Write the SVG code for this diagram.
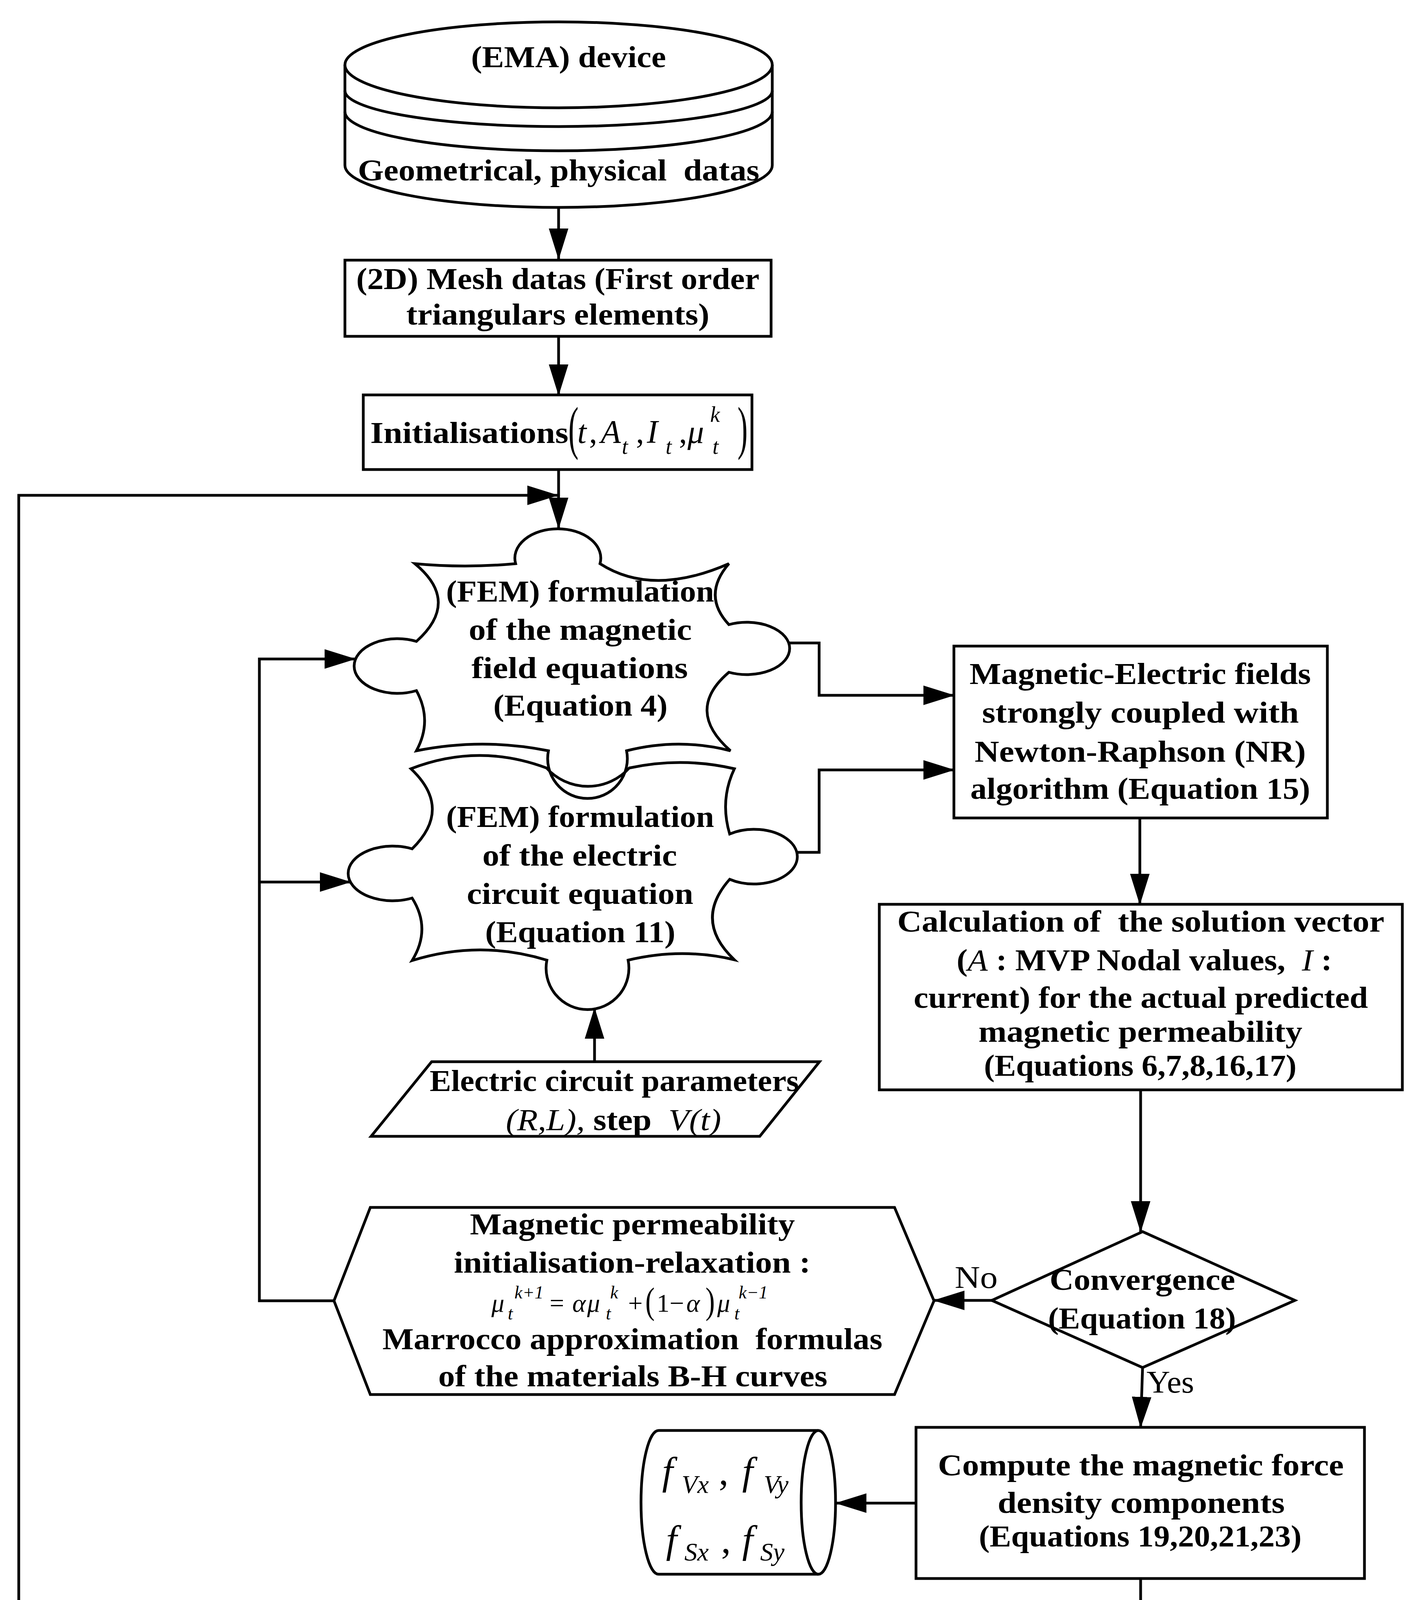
<svg xmlns="http://www.w3.org/2000/svg" width="3648" height="5640" viewBox="0 0 3648 5640">
<style>
.w{fill:#fff;stroke:#000;stroke-width:7;stroke-linejoin:miter}
.s{fill:none;stroke:#000;stroke-width:7}
.c{fill:none;stroke:#000;stroke-width:7;marker-end:url(#ah)}
text{font-family:"Liberation Serif","Times New Roman",serif;fill:#000}
.b{font-weight:bold;font-size:78px}
.l{font-size:80px}
.m{font-style:italic}
.u{font-style:normal}
</style>
<defs>
<marker id="ah" markerUnits="userSpaceOnUse" markerWidth="80" markerHeight="50" refX="78" refY="25" orient="auto" viewBox="0 0 80 50"><path d="M0,0 L80,25 L0,50 z" fill="#000"/></marker>
</defs>
<rect width="3648" height="5640" fill="#fff"/>
<g id="connectors">
<path class="c" d="M1430,531 V663"/>
<path class="c" d="M1430,861 V1011"/>
<path class="c" d="M1430,1202 V1352"/>
<path class="c" d="M951,4858 H48 V1268 H1428"/>
<path class="c" d="M855,3330 H664 V1687 H909"/>
<path class="c" d="M664,2258 H897"/>
<path class="c" d="M2017,1646 H2097 V1780 H2442"/>
<path class="c" d="M2040,2182 H2097 V1971 H2442"/>
<path class="c" d="M2918,2094 V2315"/>
<path class="c" d="M2920,2790 V3153"/>
<path class="c" d="M2539,3329 H2391"/>
<path class="c" d="M2925,3501 L2920,3654"/>
<path class="c" d="M1522,2718 V2581"/>
<path class="c" d="M2345,3848 H2140"/>
<path class="c" d="M2920,4041 V4183"/>
<path class="c" d="M2345,4376 L2143,4386"/>
<path class="c" d="M2920,4569 V4742"/>
<path class="c" d="M2638,4857 L2015,4860"/>
<path class="c" d="M2922,4971 V5132"/>
</g>
<g id="n-ema">
<path class="w" d="M883,166 V423 A547,108 0 0 0 1977,423 V166"/>
<ellipse class="w" cx="1430" cy="166" rx="547" ry="110"/>
<path class="s" d="M883,232 A547,92 0 0 0 1977,232"/>
<path class="s" d="M883,286 A547,100 0 0 0 1977,286"/>
<text class="b" x="1206" y="172" textLength="499" lengthAdjust="spacingAndGlyphs">(EMA) device</text>
<text class="b" x="916" y="462" textLength="1028" lengthAdjust="spacingAndGlyphs" xml:space="preserve">Geometrical, physical  datas</text>
</g>
<g id="n-mesh">
<rect class="w" x="883" y="666" width="1091" height="195"/>
<text class="b" x="912" y="740" textLength="1032" lengthAdjust="spacingAndGlyphs">(2D) Mesh datas (First order</text>
<text class="b" x="1040" y="831" textLength="776" lengthAdjust="spacingAndGlyphs">triangulars elements)</text>
</g>
<g id="n-init">
<rect class="w" x="930" y="1011" width="995" height="191"/>
<text class="b" x="948" y="1134" textLength="507" lengthAdjust="spacingAndGlyphs">Initialisations</text>
<text x="1455" y="1146" style="font-size:150px" textLength="26" lengthAdjust="spacingAndGlyphs">(</text>
<text class="m" y="1134" style="font-size:84px"><tspan x="1478">t</tspan><tspan x="1508" class="u">,</tspan><tspan x="1538">A</tspan><tspan x="1592" y="1162" style="font-size:56px">t</tspan><tspan x="1628" y="1134" class="u">,</tspan><tspan x="1656">I</tspan><tspan x="1704" y="1162" style="font-size:56px">t</tspan><tspan x="1738" y="1134" class="u">,</tspan><tspan x="1760">μ</tspan><tspan x="1818" y="1080" style="font-size:56px">k</tspan><tspan x="1824" y="1162" style="font-size:56px">t</tspan></text>
<text x="1888" y="1146" style="font-size:150px" textLength="26" lengthAdjust="spacingAndGlyphs">)</text>
</g>
<g id="n-fem-magnetic">
<path class="s" d="M1062,1443 Q1190,1455 1320,1443 A110,75 0 1 1 1536,1443 Q1670,1529 1866,1443 Q1796,1524 1866,1599 A110,67 0 1 1 1866,1721 Q1752,1818 1870,1922 Q1738,1888 1604,1922 A102,102 0 1 1 1404,1922 Q1235,1888 1066,1922 Q1108,1845 1066,1768 A111,70 0 1 1 1066,1642 Q1180,1540 1062,1443 Z"/>
<text class="b" x="1142" y="1540" textLength="686" lengthAdjust="spacingAndGlyphs">(FEM) formulation</text>
<text class="b" x="1200" y="1638" textLength="571" lengthAdjust="spacingAndGlyphs">of the magnetic</text>
<text class="b" x="1207" y="1736" textLength="554" lengthAdjust="spacingAndGlyphs">field equations</text>
<text class="b" x="1263" y="1832" textLength="446" lengthAdjust="spacingAndGlyphs">(Equation 4)</text>
</g>
<g id="n-fem-electric">
<path class="s" d="M1052,1968 Q1225,1901 1399,1966 A143,143 0 0 0 1611,1966 Q1745,1937 1880,1968 Q1842,2048 1868,2135 A111,70 0 1 1 1868,2251 Q1774,2357 1880,2457 Q1745,2425 1608,2458 A106,106 0 1 1 1400,2458 Q1228,2405 1055,2459 Q1105,2378 1055,2299 A114,70 0 1 1 1055,2173 Q1160,2070 1052,1968 Z"/>
<text class="b" x="1142" y="2117" textLength="686" lengthAdjust="spacingAndGlyphs">(FEM) formulation</text>
<text class="b" x="1235" y="2216" textLength="498" lengthAdjust="spacingAndGlyphs">of the electric</text>
<text class="b" x="1195" y="2314" textLength="580" lengthAdjust="spacingAndGlyphs">circuit equation</text>
<text class="b" x="1242" y="2412" textLength="487" lengthAdjust="spacingAndGlyphs">(Equation 11)</text>
</g>
<g id="n-coupled">
<rect class="w" x="2442" y="1654" width="956" height="440"/>
<text class="b" x="2482" y="1751" textLength="874" lengthAdjust="spacingAndGlyphs">Magnetic-Electric fields</text>
<text class="b" x="2514" y="1850" textLength="811" lengthAdjust="spacingAndGlyphs">strongly coupled with</text>
<text class="b" x="2495" y="1950" textLength="848" lengthAdjust="spacingAndGlyphs">Newton-Raphson (NR)</text>
<text class="b" x="2484" y="2045" textLength="870" lengthAdjust="spacingAndGlyphs">algorithm (Equation 15)</text>
</g>
<g id="n-calc">
<rect class="w" x="2251" y="2315" width="1339" height="475"/>
<text class="b" x="2297" y="2385" textLength="1247" lengthAdjust="spacingAndGlyphs" xml:space="preserve">Calculation of  the solution vector</text>
<text class="b" x="2449" y="2484" textLength="961" lengthAdjust="spacingAndGlyphs" xml:space="preserve">(<tspan font-style="italic" font-weight="normal">A</tspan> : MVP Nodal values,  <tspan font-style="italic" font-weight="normal">I</tspan> :</text>
<text class="b" x="2339" y="2580" textLength="1163" lengthAdjust="spacingAndGlyphs">current) for the actual predicted</text>
<text class="b" x="2505" y="2667" textLength="829" lengthAdjust="spacingAndGlyphs">magnetic permeability</text>
<text class="b" x="2519" y="2754" textLength="800" lengthAdjust="spacingAndGlyphs">(Equations 6,7,8,16,17)</text>
</g>
<g id="n-params">
<polygon class="w" points="1105,2718 2098,2718 1945,2909 950,2909"/>
<text class="b" x="1100" y="2793" textLength="945" lengthAdjust="spacingAndGlyphs">Electric circuit parameters</text>
<text class="b" x="1295" y="2893" textLength="551" lengthAdjust="spacingAndGlyphs" xml:space="preserve"><tspan font-style="italic" font-weight="normal">(R,L),</tspan> step  <tspan font-style="italic" font-weight="normal">V(t)</tspan></text>
</g>
<g id="n-relax">
<polygon class="w" points="855,3330 948,3091 2290,3091 2391,3330 2290,3570 948,3570"/>
<text class="b" x="1203" y="3160" textLength="832" lengthAdjust="spacingAndGlyphs">Magnetic permeability</text>
<text class="b" x="1162" y="3258" textLength="913" lengthAdjust="spacingAndGlyphs">initialisation-relaxation :</text>
<text class="m" y="3358" style="font-size:66px"><tspan x="1258">μ</tspan><tspan x="1317" y="3324" style="font-size:46px">k+1</tspan><tspan x="1300" y="3378" style="font-size:46px">t</tspan><tspan x="1407" y="3358" class="u">=</tspan><tspan x="1465">α</tspan><tspan x="1503">μ</tspan><tspan x="1562" y="3324" style="font-size:46px">k</tspan><tspan x="1551" y="3378" style="font-size:46px">t</tspan><tspan x="1608" y="3358" class="u">+</tspan><tspan x="1681" class="u">1</tspan><tspan x="1714" class="u">−</tspan><tspan x="1757">α</tspan><tspan x="1836">μ</tspan><tspan x="1891" y="3324" style="font-size:46px">k−1</tspan><tspan x="1880" y="3378" style="font-size:46px">t</tspan></text>
<text x="1652" y="3362" style="font-size:96px" textLength="24" lengthAdjust="spacingAndGlyphs">(</text>
<text x="1806" y="3362" style="font-size:96px" textLength="24" lengthAdjust="spacingAndGlyphs">)</text>
<text class="b" x="979" y="3454" textLength="1280" lengthAdjust="spacingAndGlyphs" xml:space="preserve">Marrocco approximation  formulas</text>
<text class="b" x="1122" y="3549" textLength="996" lengthAdjust="spacingAndGlyphs">of the materials B-H curves</text>
</g>
<g id="n-convergence">
<polygon class="w" points="2925,3153 3315,3329 2925,3501 2539,3329"/>
<text class="b" x="2687" y="3302" textLength="475" lengthAdjust="spacingAndGlyphs">Convergence</text>
<text class="b" x="2683" y="3401" textLength="481" lengthAdjust="spacingAndGlyphs">(Equation 18)</text>
</g>
<g id="n-compute">
<rect class="w" x="2345" y="3654" width="1148" height="387"/>
<text class="b" x="2401" y="3777" textLength="1039" lengthAdjust="spacingAndGlyphs">Compute the magnetic force</text>
<text class="b" x="2554" y="3873" textLength="735" lengthAdjust="spacingAndGlyphs">density components</text>
<text class="b" x="2506" y="3959" textLength="826" lengthAdjust="spacingAndGlyphs">(Equations 19,20,21,23)</text>
</g>
<g id="n-forces">
<path class="w" d="M2095,3662 H1686 A45,184 0 0 0 1686,4030 H2095"/>
<ellipse class="w" cx="2095" cy="3846" rx="44" ry="184"/>
<text class="m" y="3800" style="font-size:100px"><tspan x="1695">f</tspan><tspan x="1745" y="3822" style="font-size:66px">Vx</tspan><tspan x="1840" y="3800" class="u">,</tspan><tspan x="1900">f</tspan><tspan x="1955" y="3822" style="font-size:66px">Vy</tspan></text>
<text class="m" y="3975" style="font-size:100px"><tspan x="1705">f</tspan><tspan x="1752" y="3995" style="font-size:66px">Sx</tspan><tspan x="1846" y="3975" class="u">,</tspan><tspan x="1900">f</tspan><tspan x="1946" y="3995" style="font-size:66px">Sy</tspan></text>
</g>
<g id="n-solve">
<rect class="w" x="2345" y="4183" width="1148" height="386"/>
<text class="b" x="2408" y="4256" textLength="1021" lengthAdjust="spacingAndGlyphs">Solve the (FEM) mechanical</text>
<text class="b" x="2569" y="4351" textLength="704" lengthAdjust="spacingAndGlyphs">deformation model</text>
<text class="b" x="2719" y="4451" textLength="400" lengthAdjust="spacingAndGlyphs">(Equations</text>
<text class="b" x="2562" y="4546" textLength="707" lengthAdjust="spacingAndGlyphs">24,25,32,33,34,35,36)</text>
</g>
<g id="n-structural">
<path class="w" d="M2101,4223 H1450 A42,163.5 0 0 0 1450,4550 H2101"/>
<ellipse class="w" cx="2101" cy="4386.5" rx="40" ry="163.5"/>
<text class="b" x="1554" y="4307" textLength="363" lengthAdjust="spacingAndGlyphs">Structural</text>
<text class="b" x="1510" y="4406" textLength="452" lengthAdjust="spacingAndGlyphs">deformation</text>
<text class="m" y="4487" style="font-size:78px"><tspan x="1540">ε</tspan><tspan x="1588" y="4508" style="font-size:54px">xx</tspan><tspan x="1660" y="4487" class="u">,</tspan><tspan x="1702">ε</tspan><tspan x="1750" y="4508" style="font-size:54px">yy</tspan><tspan x="1826" y="4487" class="u">,</tspan><tspan x="1852">ε</tspan><tspan x="1902" y="4508" style="font-size:54px">xy</tspan></text>
</g>
<g id="n-time">
<polygon class="w" points="2922,4742 3207,4857 2922,4971 2638,4857"/>
<text class="m" y="4877" style="font-size:88px"><tspan x="2803">t</tspan><tspan x="2843" class="u">≤</tspan><tspan x="2896">t</tspan></text>
<text class="m" x="2942" y="4896" style="font-size:58px" textLength="125" lengthAdjust="spacingAndGlyphs">final</text>
</g>
<g id="n-newinit">
<polygon class="w" points="951,4860 1044,4667 1928,4667 2015,4860 1928,5050 1044,5050"/>
<text class="b" x="1082" y="4785" style="font-size:80px" textLength="826" lengthAdjust="spacingAndGlyphs">New initial conditions</text>
<text class="m" y="4891" style="font-size:100px"><tspan x="1024">t</tspan><tspan x="1071" class="u">=</tspan><tspan x="1129">t</tspan><tspan x="1178" class="u">+</tspan><tspan x="1252" class="u">Δ</tspan><tspan x="1316">t</tspan><tspan x="1453" class="u">,</tspan><tspan x="1522">A</tspan><tspan x="1590" y="4914" style="font-size:62px">t</tspan><tspan x="1640" y="4891" class="u">=</tspan><tspan x="1710">A</tspan></text>
<text class="m" x="1781" y="4914" style="font-size:62px" textLength="147" lengthAdjust="spacingAndGlyphs">t<tspan class="u">+Δ</tspan>t</text>
<text class="m" y="4994" style="font-size:100px"><tspan x="1028">I</tspan><tspan x="1071" y="5021" style="font-size:62px">t</tspan><tspan x="1125" y="4994" class="u">=</tspan><tspan x="1198">I</tspan><tspan x="1453" class="u">,</tspan><tspan x="1518">μ</tspan><tspan x="1583" y="5021" style="font-size:62px">t</tspan><tspan x="1640" y="4994" class="u">=</tspan><tspan x="1705">μ</tspan></text>
<text class="m" x="1252" y="5021" style="font-size:62px" textLength="147" lengthAdjust="spacingAndGlyphs">t<tspan class="u">+Δ</tspan>t</text>
<text class="m" x="1774" y="5021" style="font-size:62px" textLength="147" lengthAdjust="spacingAndGlyphs">t<tspan class="u">+Δ</tspan>t</text>
</g>
<g id="n-results">
<path class="w" d="M2413,5231 V5484 A506,99 0 0 0 3425,5484 V5231"/>
<ellipse class="w" cx="2919" cy="5231" rx="506" ry="100"/>
<path class="s" d="M2413,5294 A506,91 0 0 0 3425,5294"/>
<text class="b" x="2786" y="5426" textLength="268" lengthAdjust="spacingAndGlyphs">Results</text>
<text class="b" x="2491" y="5525" textLength="859" lengthAdjust="spacingAndGlyphs">storage/post processing</text>
</g>
<g id="labels">
<text class="l" x="2444" y="3297" textLength="110" lengthAdjust="spacingAndGlyphs">No</text>
<text class="l" x="2935" y="3565" textLength="122" lengthAdjust="spacingAndGlyphs">Yes</text>
<text class="l" x="2474" y="4823" textLength="126" lengthAdjust="spacingAndGlyphs">Yes</text>
<text class="l" x="2959" y="5072" textLength="112" lengthAdjust="spacingAndGlyphs">No</text>
</g>
</svg>
